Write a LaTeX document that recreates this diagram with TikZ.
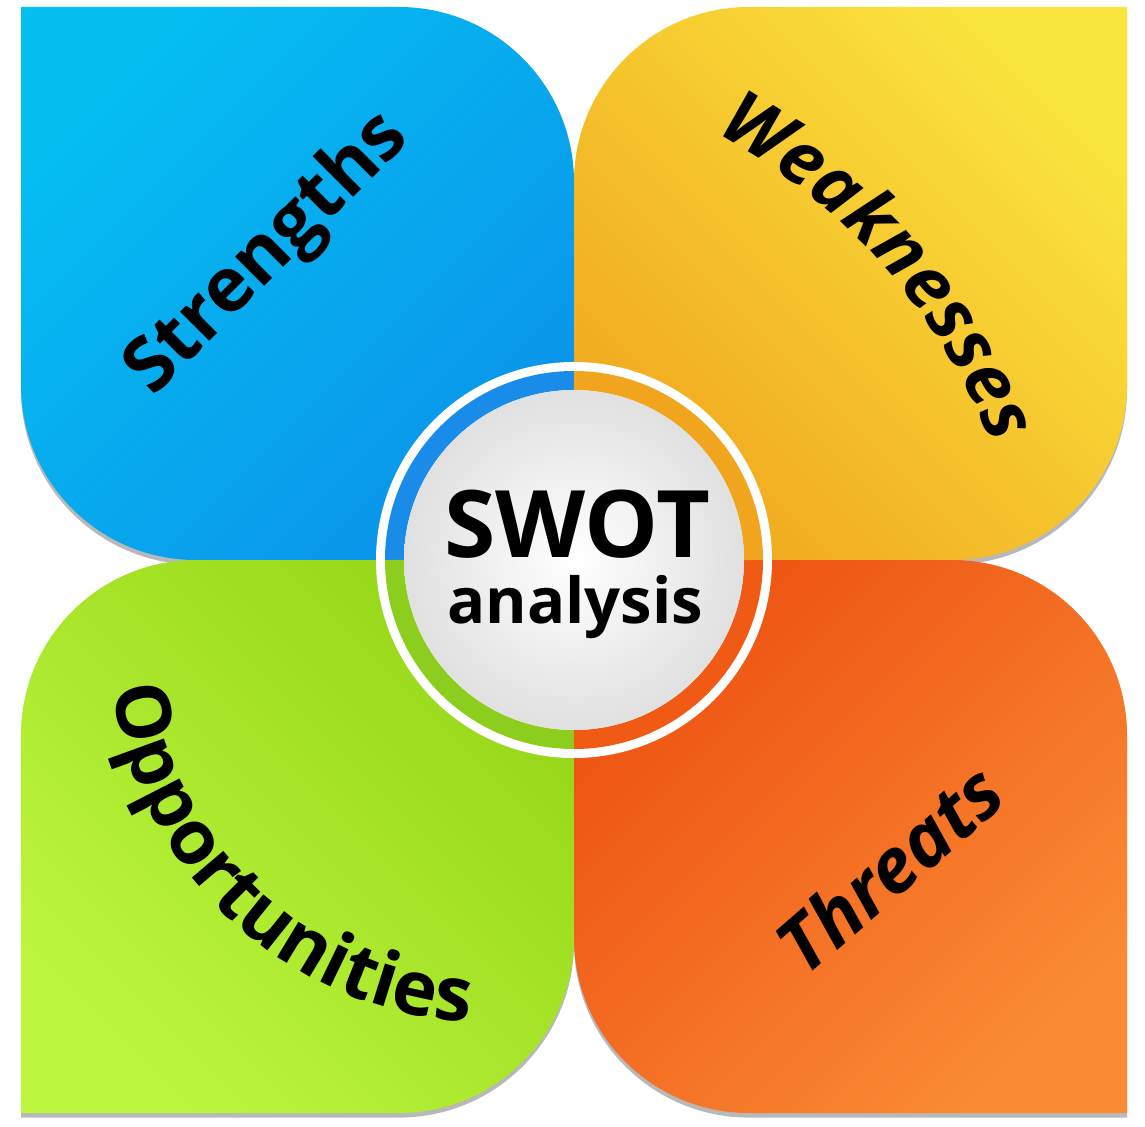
\documentclass[tikz,border=0pt]{standalone}
\usepackage{fontspec}
\setmainfont{Open Sans}
\usetikzlibrary{decorations.text,shadows}
\definecolor{blueA}{RGB}{5,190,242}
\definecolor{blueB}{RGB}{10,148,234}
\definecolor{yelA}{RGB}{250,228,62}
\definecolor{yelB}{RGB}{241,168,30}
\definecolor{grnA}{RGB}{150,214,24}
\definecolor{grnB}{RGB}{188,246,62}
\definecolor{orgA}{RGB}{238,82,18}
\definecolor{orgB}{RGB}{250,138,52}
\definecolor{ringB}{RGB}{24,140,232}
\definecolor{ringY}{RGB}{241,165,30}
\definecolor{ringO}{RGB}{240,90,20}
\definecolor{ringG}{RGB}{140,205,30}
\tikzset{
  petal/.style={drop shadow={shadow xshift=0pt,shadow yshift=-1.3pt,opacity=0.28,fill=black}},
  ringarc/.style={line width=0.19cm},
  label/.style={font=\fontsize{21.5}{26}\selectfont\bfseries, text=black, inner sep=0pt},
}
\begin{document}
\begin{tikzpicture}[x=0.01cm,y=0.01cm]
\fill[white] (0,0) rectangle (1145,1126);
\useasboundingbox (0,0) rectangle (1145,1126);
\coordinate (C) at (574,566);
% petals
\path[petal, top color=blueA, bottom color=blueB, shading angle=45]
  (21,1119) -- (399,1119) arc[start angle=90,end angle=0,radius=175] -- (574,566) -- (196,566) arc[start angle=270,end angle=180,radius=175] -- cycle;
\path[petal, top color=yelA, bottom color=yelB, shading angle=-45]
  (1127,1119) -- (1127,741) arc[start angle=0,end angle=-90,radius=175] -- (574,566) -- (574,944) arc[start angle=180,end angle=90,radius=175] -- cycle;
\path[petal, top color=grnA, bottom color=grnB, shading angle=-45]
  (21,13) -- (21,391) arc[start angle=180,end angle=90,radius=175] -- (574,566) -- (574,188) arc[start angle=0,end angle=-90,radius=175] -- cycle;
\path[petal, top color=orgA, bottom color=orgB, shading angle=45]
  (1127,13) -- (1127,391) arc[start angle=0,end angle=90,radius=175] -- (574,566) -- (574,188) arc[start angle=180,end angle=270,radius=175] -- cycle;
% centre disc
\fill[white] (C) circle[radius=198];
\draw[ringarc, ringB] (C) ++(90:179.5) arc[start angle=90,end angle=180,radius=179.5];
\draw[ringarc, ringG] (C) ++(180:179.5) arc[start angle=180,end angle=270,radius=179.5];
\draw[ringarc, ringO] (C) ++(270:179.5) arc[start angle=270,end angle=360,radius=179.5];
\draw[ringarc, ringY] (C) ++(0:179.5) arc[start angle=0,end angle=90,radius=179.5];
\shade[inner color=white, outer color=black!12] (C) circle[radius=170];
\node[anchor=base, inner sep=0pt, font=\fontsize{26.5}{30}\selectfont\bfseries] (swot) at (577,569) {SWOT};
\node[anchor=base, inner sep=0pt, font=\fontsize{18}{22}\selectfont\bfseries] (analysis) at (575,503) {analysis};
% labels
\node[label, rotate=45] (strengths) at (268,871) {Strengths};
\node[label, rotate=41, font=\fontsize{21.5}{26}\selectfont\bfseries\itshape] (threats) at (889,258) {Threats};
\path[decorate, decoration={text along path, text align=center,
  text={|\fontsize{21}{26}\selectfont\bfseries\itshape|Weaknesses}}]
  (437,468) ++(75:594) arc[start angle=75,end angle=8,radius=594];
\path[decorate, decoration={text along path, text align=center,
  text={|\fontsize{21.5}{26}\selectfont\bfseries|Opportunities}}]
  (493,487) ++(170:384) arc[start angle=170,end angle=284,radius=384];
\end{tikzpicture}
\end{document}
